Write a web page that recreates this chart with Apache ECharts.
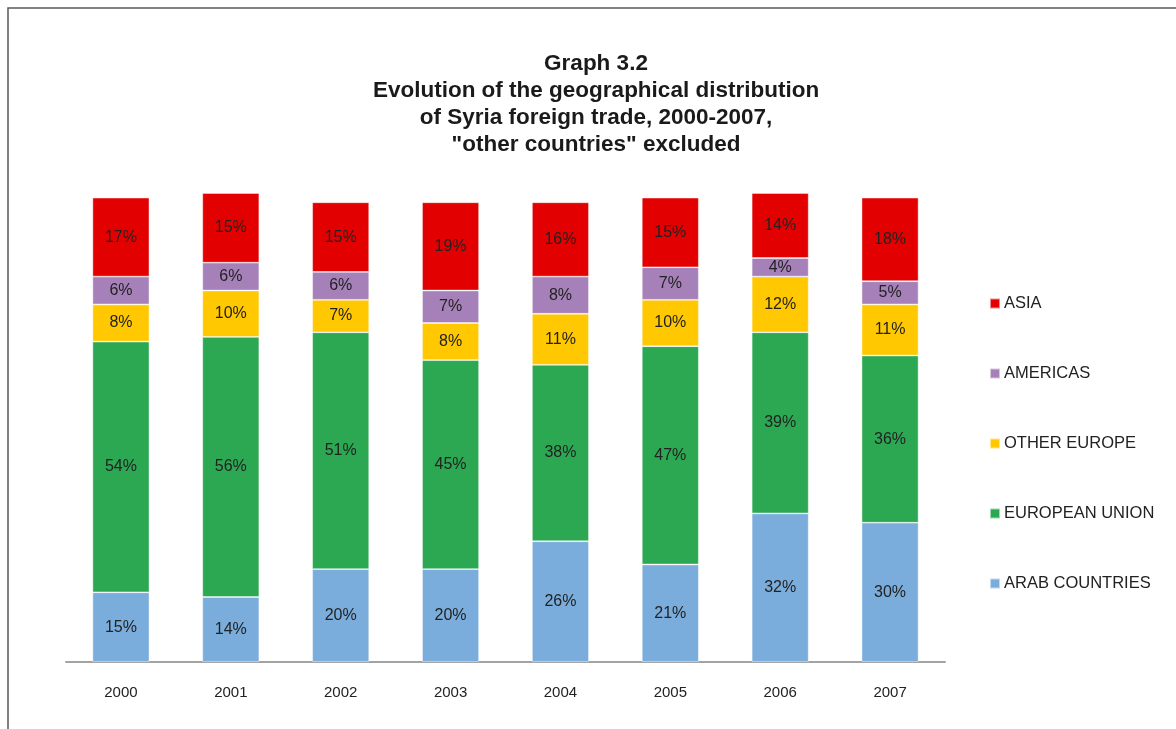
<!DOCTYPE html>
<html>
<head>
<meta charset="utf-8">
<title>Graph 3.2 – Syria foreign trade by region</title>
<script src="https://cdn.jsdelivr.net/npm/echarts@6/dist/echarts.min.js"></script>
<style>
  html, body { margin: 0; padding: 0; background: #fff; }
  #chart { width: 1176px; height: 729px; }
</style>
</head>
<body>
<div id="chart"></div>
<script>
// Years on the horizontal axis
const years = ['2000', '2001', '2002', '2003', '2004', '2005', '2006', '2007'];

// Share of trade (%) by region, bottom to top of each stack
const arabCountries  = [15, 14, 20, 20, 26, 21, 32, 30];
const europeanUnion  = [54, 56, 51, 45, 38, 47, 39, 36];
const otherEurope    = [8, 10, 7, 8, 11, 10, 12, 11];
const americas       = [6, 6, 6, 7, 8, 7, 4, 5];
const asia           = [17, 15, 15, 19, 16, 15, 14, 18];

const legendOrder = ['ASIA', 'AMERICAS', 'OTHER EUROPE', 'EUROPEAN UNION', 'ARAB COUNTRIES'];

const FONT = '"Liberation Sans", Arial, sans-serif';

function stackSeries(name, values, color) {
  return {
    name: name,
    type: 'bar',
    stack: 'total',
    barWidth: 57,
    data: values,
    itemStyle: { color: color, borderColor: 'rgba(255,255,255,0.55)', borderWidth: 0.8 },
    label: {
      show: true,
      position: 'inside',
      formatter: '{c}%',
      color: '#222',
      fontSize: 16,
      fontFamily: FONT
    },
    emphasis: { disabled: true }
  };
}

const chart = echarts.init(document.getElementById('chart'), null, { renderer: 'canvas' });

chart.setOption({
  animation: false,
  backgroundColor: '#fff',
  title: {
    text: 'Graph 3.2\nEvolution of the geographical distribution\nof Syria foreign trade, 2000-2007,\n"other countries" excluded',
    left: 591,
    top: 45,
    textAlign: 'center',
    textStyle: {
      fontFamily: FONT,
      fontSize: 22.5,
      fontWeight: 'bold',
      color: '#1a1a1a',
      lineHeight: 27,
      align: 'center'
    }
  },
  graphic: [{
    type: 'rect',
    shape: { x: 8, y: 8, width: 1200, height: 800 },
    style: { fill: 'none', stroke: '#5a5a5a', lineWidth: 1.5 },
    silent: true,
    z: -1
  }],
  legend: {
    data: legendOrder,
    orient: 'vertical',
    left: 984,
    top: 290,
    itemWidth: 10,
    itemHeight: 10,
    itemGap: 53,
    icon: 'rect',
    textStyle: { fontFamily: FONT, fontSize: 16.5, color: '#222', lineHeight: 17, padding: [0, 0, 0, -1] },
    selectedMode: false
  },
  grid: {
    left: 66,
    right: 231,
    top: 193,
    bottom: 67
  },
  xAxis: {
    type: 'category',
    data: years,
    axisLine: { show: true, lineStyle: { color: '#a3a3a3', width: 2 } },
    axisTick: { show: false },
    axisLabel: { fontFamily: FONT, fontSize: 15, color: '#222', margin: 23 }
  },
  yAxis: {
    type: 'value',
    min: 0,
    max: 101,
    show: false,
    splitLine: { show: false }
  },
  series: [
    stackSeries('ARAB COUNTRIES', arabCountries, '#7aaddc'),
    stackSeries('EUROPEAN UNION', europeanUnion, '#2ca853'),
    stackSeries('OTHER EUROPE', otherEurope, '#ffc800'),
    stackSeries('AMERICAS', americas, '#a680b8'),
    stackSeries('ASIA', asia, '#e30000')
  ]
});
</script>
</body>
</html>
